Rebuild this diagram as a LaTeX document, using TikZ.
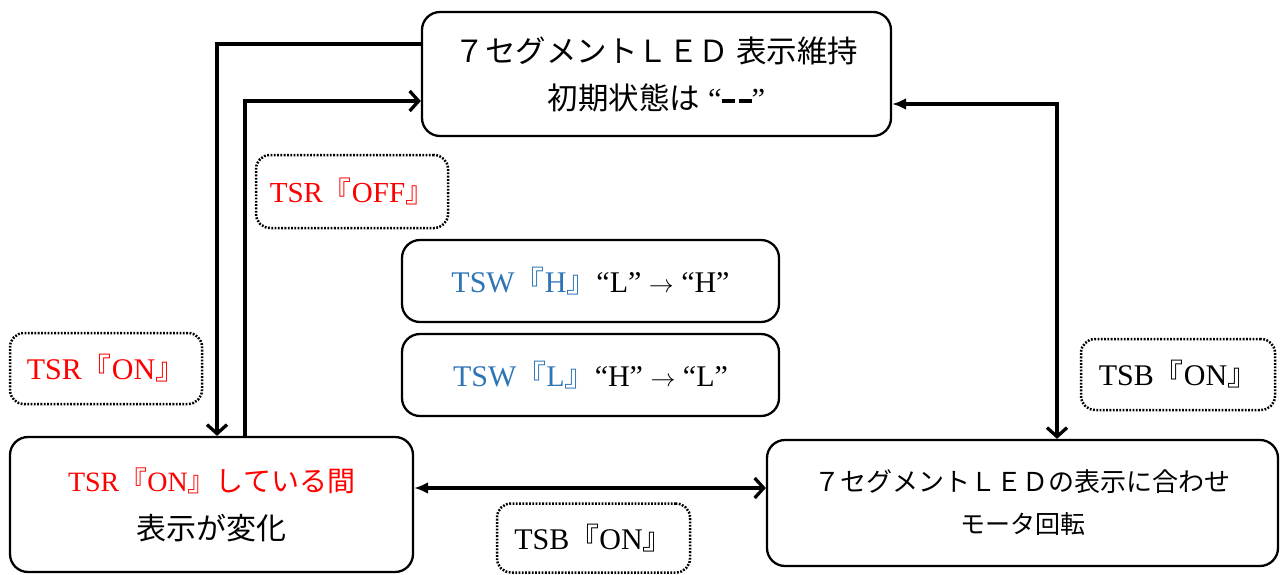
\documentclass[tikz,border=0pt]{standalone}
\usepackage{fontspec}
\setmainfont{Liberation Serif}
\newfontfamily\jp{Noto Sans CJK JP}
\usetikzlibrary{arrows.meta}
\definecolor{tswblue}{RGB}{46,117,182}
\begin{document}
\begin{tikzpicture}[x=1pt,y=-1pt,
  box/.style={draw, line width=2.3pt, rounded corners=18pt, inner sep=0pt, align=center},
  lbl/.style={draw, line width=2.5pt, dash pattern=on 1.8pt off 1.5pt, rounded corners=14pt, inner sep=0pt, align=center},
  thickconn/.style={line width=4.3pt},
  conn/.style={line width=3.3pt},
  barb/.style={-{Straight Barb[length=9pt,width=20pt,line width=3.3pt]}},
  both/.style={{Latex[length=14pt,width=12pt]}-{Straight Barb[length=9pt,width=20pt,line width=3.3pt]}}
]
\useasboundingbox (0,0) rectangle (1283,574);

\node[box, minimum width=469pt, minimum height=124pt, font=\fontsize{30.5}{47}\selectfont] (top) at (656.5,74)
  {{\jp ７セグメントＬＥＤ 表示維持}\\{\jp 初期状態は}\ “\rule[6pt]{13pt}{4pt}\hspace{4pt}\rule[6pt]{13pt}{4pt}”};

\node[lbl, minimum width=192pt, minimum height=73pt, text=red, font=\fontsize{29}{32}\selectfont] (offl) at (352,191.5)
  {TSR{\jp 『}OFF{\jp 』}};

\node[box, minimum width=377pt, minimum height=82pt, font=\fontsize{30}{32}\selectfont] (tswh) at (590.5,281)
  {{\color{tswblue}TSW{\jp 『}H{\jp 』}}“L”\ $\rightarrow$\ “H”};

\node[box, minimum width=377pt, minimum height=82pt, font=\fontsize{30}{32}\selectfont] (tswl) at (590.5,375)
  {{\color{tswblue}TSW{\jp 『}L{\jp 』}}“H”\ $\rightarrow$\ “L”};

\node[lbl, minimum width=192pt, minimum height=71pt, text=red, font=\fontsize{30}{32}\selectfont] (onl) at (106,368.5)
  {TSR{\jp 『}ON{\jp 』}};

\node[box, minimum width=403pt, minimum height=135pt, font=\fontsize{28}{48}\selectfont] (bl) at (211.5,504.5)
  {{\color{red}TSR{\jp 『}ON{\jp 』している間}}\\{\fontsize{30}{30}\selectfont\jp 表示が変化}};

\node[lbl, minimum width=194pt, minimum height=71pt, font=\fontsize{30}{32}\selectfont] (tsbr) at (1178,374.5)
  {TSB{\jp 『}ON{\jp 』}};

\node[box, minimum width=511pt, minimum height=126pt, font=\fontsize{26}{42}\selectfont] (br) at (1022.5,503)
  {{\jp ７セグメントＬＥＤの表示に合わせ}\\{\fontsize{25}{25}\selectfont\jp モータ回転}};

\node[lbl, minimum width=193pt, minimum height=69pt, font=\fontsize{30}{32}\selectfont] (tsbb) at (593.5,538)
  {TSB{\jp 『}ON{\jp 』}};

\draw[thickconn, barb] ([yshift=30pt]top.west) -| ([xshift=5.5pt]bl.north);
\draw[thickconn, barb] ([xshift=33.5pt]bl.north) |- ([yshift=-27pt]top.west);
\draw[conn, both] ([yshift=-30pt]top.east) -| ([xshift=34.5pt]br.north);
\draw[conn, both] ([yshift=16.5pt]bl.east) -- ([yshift=16.5pt]bl.east -| br.west);
\end{tikzpicture}
\end{document}
